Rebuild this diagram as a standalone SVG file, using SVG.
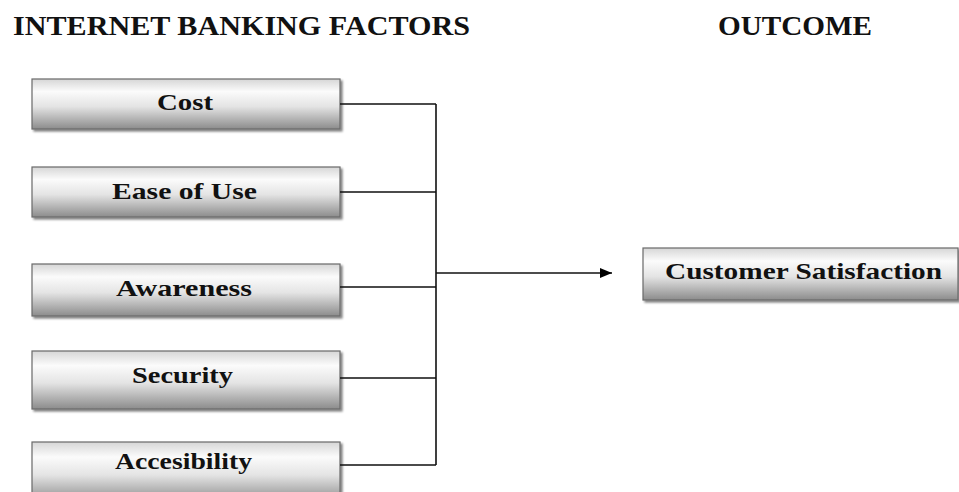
<svg xmlns="http://www.w3.org/2000/svg" width="959" height="492" viewBox="0 0 959 492">
<defs>
<linearGradient id="g" x1="0" y1="0" x2="0" y2="1">
<stop offset="0" stop-color="#d6d6d6"/>
<stop offset="0.25" stop-color="#fbfbfb"/>
<stop offset="0.55" stop-color="#e4e4e4"/>
<stop offset="1" stop-color="#8c8c8c"/>
</linearGradient>
<filter id="sh" x="-5%" y="-20%" width="110%" height="150%">
<feGaussianBlur in="SourceAlpha" stdDeviation="1.2"/>
<feOffset dx="1.5" dy="2" result="b"/>
<feComponentTransfer><feFuncA type="linear" slope="0.5"/></feComponentTransfer>
<feMerge><feMergeNode/><feMergeNode in="SourceGraphic"/></feMerge>
</filter>
<marker id="arr" viewBox="0 0 12 10" refX="12" refY="5" markerWidth="12" markerHeight="10" markerUnits="userSpaceOnUse" orient="auto">
<path d="M0,0 L12,5 L0,10 z" fill="#000"/>
</marker>
</defs>
<style>
.box{fill:url(#g);stroke:#6a6a6a;stroke-width:1.2;filter:url(#sh)}
.t{font-family:"Liberation Serif","Times New Roman",serif;font-weight:bold;font-size:24px;fill:#111}
.h{font-family:"Liberation Serif","Times New Roman",serif;font-weight:bold;font-size:27px;fill:#111}
.c{fill:none;stroke:#111;stroke-width:1.6}
</style>
<rect width="959" height="492" fill="#fff"/>
<text class="h" x="13" y="35" textLength="457" lengthAdjust="spacingAndGlyphs">INTERNET BANKING FACTORS</text>
<text class="h" x="718" y="35" textLength="154" lengthAdjust="spacingAndGlyphs">OUTCOME</text>
<g id="cost"><rect class="box" x="32" y="79" width="308" height="50"/><text class="t" x="157" y="110" textLength="56" lengthAdjust="spacingAndGlyphs">Cost</text></g>
<g id="ease"><rect class="box" x="32" y="167" width="308" height="50"/><text class="t" x="112" y="199" textLength="145" lengthAdjust="spacingAndGlyphs">Ease of Use</text></g>
<g id="awareness"><rect class="box" x="32" y="264" width="308" height="52"/><text class="t" x="116" y="296" textLength="136" lengthAdjust="spacingAndGlyphs">Awareness</text></g>
<g id="security"><rect class="box" x="32" y="351" width="308" height="58"/><text class="t" x="132" y="383" textLength="101" lengthAdjust="spacingAndGlyphs">Security</text></g>
<g id="accesibility"><rect class="box" x="32" y="442" width="308" height="60"/><text class="t" x="115" y="469" textLength="137" lengthAdjust="spacingAndGlyphs">Accesibility</text></g>
<g id="satisfaction"><rect class="box" x="643" y="248" width="315" height="52"/><text class="t" x="665" y="279" textLength="277" lengthAdjust="spacingAndGlyphs">Customer Satisfaction</text></g>
<g id="connectors">
<path class="c" d="M340,104 H436 M340,192 H436 M340,287 H436 M340,378 H436 M340,465 H436 M436,104 V465"/>
<path class="c" d="M436,273 H612" marker-end="url(#arr)"/>
</g>
</svg>
